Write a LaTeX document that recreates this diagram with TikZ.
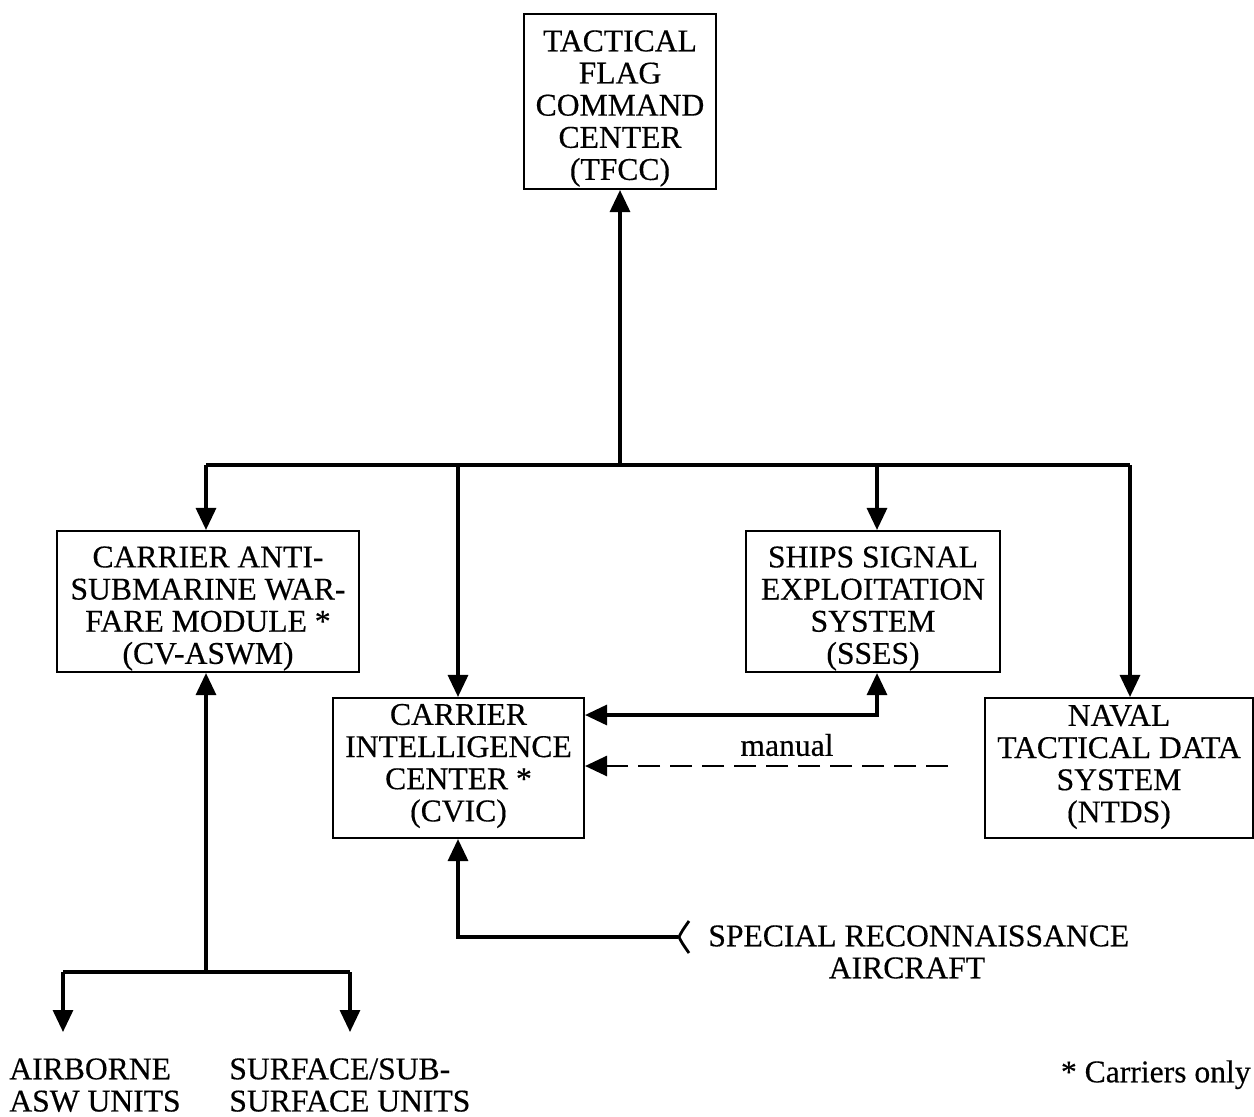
\documentclass[tikz,border=0pt]{standalone}
\usepackage{fontspec}
\setmainfont{Liberation Serif}[FakeBold=0.4]
\usetikzlibrary{arrows.meta}
\begin{document}
\begin{tikzpicture}[x=0.02cm,y=-0.02cm,
  lbl/.style={font=\fontsize{18}{18.3}\selectfont, inner sep=0pt},
  box/.style={draw, line width=1.2pt, inner sep=0pt},
  txt/.style={lbl, align=center},
  conn/.style={line width=1.8pt, -{Triangle[length=0.44cm,width=0.4cm]}},
  conn2/.style={line width=1.8pt, {Triangle[length=0.44cm,width=0.4cm]}-{Triangle[length=0.44cm,width=0.4cm]}},
  plain/.style={line width=1.8pt}]
\useasboundingbox (0,0) rectangle (1254,1116);
% boxes
\node[box, minimum width=3.84cm, minimum height=3.5cm] (tfcc) at (620,101.5) {};
\node[txt, yshift=-0.14cm] (tfccT) at (tfcc) {TACTICAL\\FLAG\\COMMAND\\CENTER\\(TFCC)};
\node[box, minimum width=6.04cm, minimum height=2.82cm] (asw) at (208,601.5) {};
\node[txt, yshift=-0.14cm] (aswT) at (asw) {CARRIER ANTI-\\SUBMARINE WAR-\\FARE MODULE *\\(CV-ASWM)};
\node[box, minimum width=5.08cm, minimum height=2.82cm] (sses) at (873,601.5) {};
\node[txt, yshift=-0.14cm] (ssesT) at (sses) {SHIPS SIGNAL\\EXPLOITATION\\SYSTEM\\(SSES)};
\node[box, minimum width=5.02cm, minimum height=2.8cm] (cvic) at (458.5,768) {};
\node[txt, yshift=0.04cm] (cvicT) at (cvic) {CARRIER\\INTELLIGENCE\\CENTER *\\(CVIC)};
\node[box, minimum width=5.36cm, minimum height=2.8cm] (ntds) at (1119,768) {};
\node[txt, yshift=0.02cm] (ntdsT) at (ntds) {NAVAL\\TACTICAL DATA\\SYSTEM\\(NTDS)};
% free labels
\node[lbl, anchor=north west] (sra) at (708,925) {SPECIAL RECONNAISSANCE};
\node[lbl, anchor=north] (sra2) at (907,957) {AIRCRAFT};
\node[lbl, align=left, anchor=north west] (air) at (9,1058) {AIRBORNE\\ASW UNITS};
\node[lbl, align=left, anchor=north west] (surf) at (229,1058) {SURFACE/SUB-\\SURFACE UNITS};
\node[lbl, anchor=north east] (note) at (1251,1060) {* Carriers only};
\node[lbl] (manual) at (787,745) {manual};
% bus coordinates
\coordinate (bus) at (620,465);
\coordinate (bl) at (206,465);
\coordinate (br) at (1130,465);
\coordinate (low) at (206,972);
\coordinate (lowl) at (63,972);
\coordinate (lowr) at (350,972);
\coordinate (srcend) at (678,937);
\coordinate (dashend) at (948,766);
% connectors
\draw[conn] (bus) -- (tfcc.south);
\draw[plain] (bl) -- (br);
\draw[conn] (bl) -- (bl |- asw.north);
\draw[conn] (458,465) -- (458,0 |- cvic.north);
\draw[conn] (877,465) -- (877,0 |- sses.north);
\draw[conn] (br) -- (br |- ntds.north);
\draw[conn2] (877,0 |- sses.south) -- (877,715) -- (cvic.east |- 0,715);
\draw[line width=1.6pt, dash pattern=on 0.44cm off 0.2cm, -{Triangle[length=0.44cm,width=0.4cm]}] (dashend) -- (cvic.east |- dashend);
\draw[conn] (srcend) -- (458,937) -- (458,0 |- cvic.south);
\draw[line width=1.6pt] (689,921) .. controls (682,931) .. (679,937) .. controls (682,943) .. (689,953);
\draw[conn] (low) -- (low |- asw.south);
\draw[plain] (lowl) -- (lowr);
\draw[conn] (lowl) -- (63,1032);
\draw[conn] (lowr) -- (350,1032);
\end{tikzpicture}
\end{document}
